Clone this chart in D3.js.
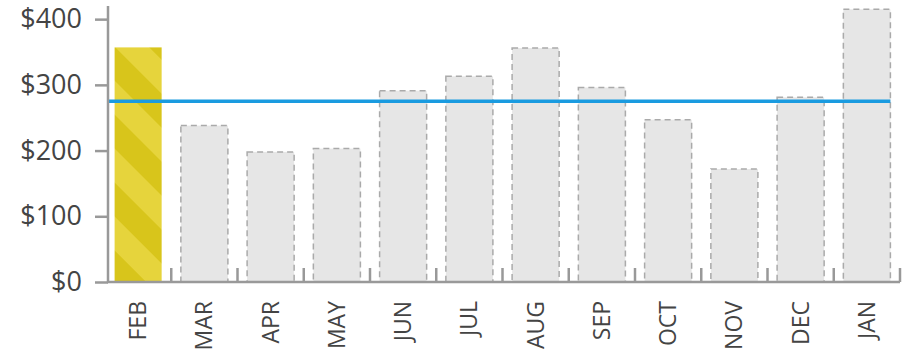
<!DOCTYPE html>
<html>
<head>
<meta charset="utf-8">
<script src="https://cdn.jsdelivr.net/npm/d3@7"></script>
<style>
  body { margin: 0; background: #fff; }
  #container { width: 910px; height: 356px; }
  text { font-family: "Open Sans", sans-serif; fill: #444; }
</style>
</head>
<body>
<div id="container"></div>
<script>
// monthly values
const months = ["FEB", "MAR", "APR", "MAY", "JUN", "JUL", "AUG", "SEP", "OCT", "NOV", "DEC", "JAN"];
const costs = [357, 238, 198, 203, 291, 313, 356, 296, 247, 172, 281, 415];
const average = [275];
const yTicks = [0, 100, 200, 300, 400];
const highlighted = ["FEB"];

const container = document.getElementById("container");
const canvas_w = 910;
const canvas_h = 356;

var svg = d3.select(container)
            .append("svg")
            .attr("width", canvas_w)
            .attr("height", canvas_h);

var data = months.map((m, i) => ({month: m, cost: costs[i]}));

let x = d3.scaleBand()
        .domain(months)
        .range([105, 900])
        .paddingInner(0.29)
        .paddingOuter(0.145);

let y = d3.scaleLinear()
        .domain([0, 420])
        .range([282, 6]);

// striped fill for the highlighted month
let defs = svg.append("defs");
let pat = defs.append("pattern")
        .attr("id", "stripes")
        .attr("patternUnits", "userSpaceOnUse")
        .attr("width", 48)
        .attr("height", 48)
        .attr("patternTransform", "rotate(-45)");
pat.append("rect").attr("width", 48).attr("height", 48).attr("fill", "#e6d43c");
pat.append("rect").attr("x", 24).attr("width", 24).attr("height", 48).attr("fill", "#d8c51b");

svg.selectAll("rect.bar")
    .data(data)
    .enter()
    .append("rect")
    .attr("class", "bar")
    .attr("x", (d) => x(d.month))
    .attr("y", (d) => y(d.cost))
    .attr("width", x.bandwidth())
    .attr("height", (d) => y(0) - y(d.cost))
    .attr("fill", (d) => highlighted.includes(d.month) ? "url(#stripes)" : "#e6e6e6")
    .attr("stroke", (d) => highlighted.includes(d.month) ? "none" : "#aaa")
    .attr("stroke-width", 1.5)
    .attr("stroke-dasharray", "6,4");

// average line
svg.selectAll("line.avg")
    .data(average)
    .enter()
    .append("line")
    .attr("class", "avg")
    .attr("x1", 108)
    .attr("x2", x(months[months.length - 1]) + x.bandwidth())
    .attr("y1", (d) => y(d))
    .attr("y2", (d) => y(d))
    .attr("stroke", "#1a9be0")
    .attr("stroke-width", 3.5);

// y axis
let yAxis = svg.append("g")
    .attr("transform", "translate(108,0)")
    .call(d3.axisLeft(y).tickValues(yTicks).tickSize(13).tickPadding(13).tickFormat((d) => "$" + d));
yAxis.select(".domain").remove();
yAxis.selectAll(".tick line").attr("stroke", "#999").attr("stroke-width", 2.5);
yAxis.selectAll("text").style("font-size", "27px").attr("fill", "#444");

svg.append("line")
    .attr("x1", 108).attr("x2", 108)
    .attr("y1", y(420)).attr("y2", y(0))
    .attr("stroke", "#999").attr("stroke-width", 2.5);

// x axis
let xAxis = svg.append("g")
    .attr("transform", "translate(0,282)")
    .call(d3.axisBottom(x).tickSize(0).tickPadding(0));
xAxis.select(".domain").remove();
xAxis.selectAll("text")
    .style("font-size", "23px")
    .attr("fill", "#444")
    .attr("text-anchor", "end")
    .attr("transform", "rotate(-90)")
    .attr("x", -19)
    .attr("y", 0)
    .attr("dy", "0.35em");

svg.append("line")
    .attr("x1", 107).attr("x2", 900)
    .attr("y1", y(0)).attr("y2", y(0))
    .attr("stroke", "#999").attr("stroke-width", 2.5);

// small ticks between the bars
svg.selectAll("line.sep")
    .data(months)
    .enter()
    .append("line")
    .attr("class", "sep")
    .attr("x1", (d) => x(d) - x.step() * x.paddingInner() / 2 + x.step())
    .attr("x2", (d) => x(d) - x.step() * x.paddingInner() / 2 + x.step())
    .attr("y1", y(0) - 14)
    .attr("y2", y(0))
    .attr("stroke", "#999")
    .attr("stroke-width", 2.5);
</script>
</body>
</html>
